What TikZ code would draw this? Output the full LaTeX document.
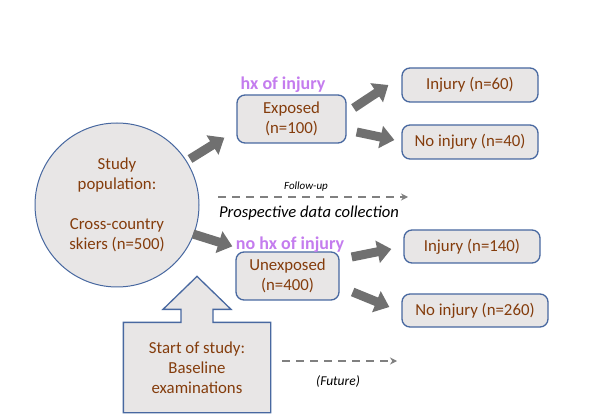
\documentclass[tikz,border=0pt]{standalone}
\usepackage{fontspec}
\setmainfont{Carlito}
\usepackage{xcolor}
\usepackage{tikz}
\usetikzlibrary{arrows.meta, positioning, backgrounds}

\definecolor{boxfill}{RGB}{232,230,230}
\definecolor{boxline}{RGB}{72,104,160}
\definecolor{boxtext}{RGB}{132,60,12}
\definecolor{blockgray}{RGB}{112,112,112}
\definecolor{dashgray}{RGB}{128,128,128}
\definecolor{notepurple}{RGB}{196,124,238}

\begin{document}
\begin{tikzpicture}[
  x=1pt, y=-1pt,
  box/.style={rectangle, draw=boxline, line width=1.3pt, rounded corners=8pt,
              fill=boxfill, text=boxtext, align=center,
              font=\fontsize{16.8}{20}\selectfont},
  popcircle/.style={circle, draw=boxline, line width=1pt, fill=boxfill,
                    text=boxtext, align=center, minimum size=164pt, inner sep=0pt,
                    font=\fontsize{16.8}{20}\selectfont},
  blockarr/.style={draw=blockgray, line width=9pt,
                   -{Triangle[length=14pt, width=22pt]}},
  dasharr/.style={draw=dashgray, line width=2.6pt, dash pattern=on 8pt off 6pt,
                  -{Stealth[length=7pt, width=7pt]}},
  note/.style={text=notepurple, font=\bfseries\fontsize{18}{20}\selectfont},
  italabel/.style={font=\itshape}
]
  \useasboundingbox (0,0) rectangle (591,419);

  % left side
  \node[popcircle] (pop) at (117,205)
    {Study\\population:\\[20pt]Cross-country\\skiers (n=500)};
  \node[box, rectangle, rounded corners=0pt, draw=none, fill=none,
        minimum width=146pt, minimum height=89pt] (start) at (197,367.5)
    {Start of study:\\Baseline\\examinations};
  \begin{scope}[on background layer]
    \draw[draw=boxline, line width=1.3pt, fill=boxfill]
      (start.south west) -- (start.north west) -- ([shift={(-16,0)}]start.north)
      -- ++(0,-13) -- ++(-18,0) -- ([shift={(0,-46)}]start.north)
      -- ++(34,33) -- ++(-18,0) -- ++(0,13) -- (start.north east)
      -- (start.south east) -- cycle;
  \end{scope}

  % exposure groups
  \node[box, minimum width=109pt, minimum height=48pt] (exp)   at (291.5,119) {Exposed\\(n=100)};
  \node[box, minimum width=103pt, minimum height=48pt] (unexp) at (287.5,276) {Unexposed\\(n=400)};

  % outcomes
  \node[box, minimum width=136pt, minimum height=34pt] (inj1)   at (470,85)    {Injury (n=60)};
  \node[box, minimum width=136pt, minimum height=34pt] (noinj1) at (470,142)   {No injury (n=40)};
  \node[box, minimum width=136pt, minimum height=33pt] (inj2)   at (472,246.5) {Injury (n=140)};
  \node[box, minimum width=146pt, minimum height=33pt] (noinj2) at (475,310.5) {No injury (n=260)};

  % handwritten notes
  \node[note] (hx)   at (283,85)  {hx of injury};
  \node[note] (nohx) at (290,245) {no hx of injury};

  % time labels
  \node[italabel, font=\itshape\fontsize{11}{13}\selectfont] (fu)  at (306,187) {Follow-up};
  \node[italabel, font=\itshape\fontsize{16.6}{20}\selectfont] (pdc) at (309,213) {Prospective data collection};
  \node[italabel, font=\itshape\fontsize{13.5}{15}\selectfont] (fut) at (338,381) {(Future)};
  \coordinate (fu start)  at (218,197);
  \coordinate (fu end)    at (408,197);
  \coordinate (fut start) at (282,361);
  \coordinate (fut end)   at (397,361);

  \draw[dasharr] (fu start)  -- (fu end);
  \draw[dasharr] (fut start) -- (fut end);

  % block arrows
  \draw[blockarr] ([shift={(73,-46)}]pop.center) -- ([shift={(-12,-6)}]exp.south west);
  \draw[blockarr] ([shift={(76,29)}]pop.center)  -- ([shift={(-3,-5)}]unexp.north west);
  \draw[blockarr] ([shift={(7,-11)}]exp.east)    -- ([shift={(-13,0)}]inj1.west);
  \draw[blockarr] ([shift={(10,13)}]exp.east)    -- ([shift={(-7,-2)}]noinj1.west);
  \draw[blockarr] ([shift={(12,-19)}]unexp.east) -- ([shift={(-12,2.5)}]inj2.west);
  \draw[blockarr] ([shift={(13,16)}]unexp.east)  -- ([shift={(-12,-3.5)}]noinj2.west);
\end{tikzpicture}
\end{document}
